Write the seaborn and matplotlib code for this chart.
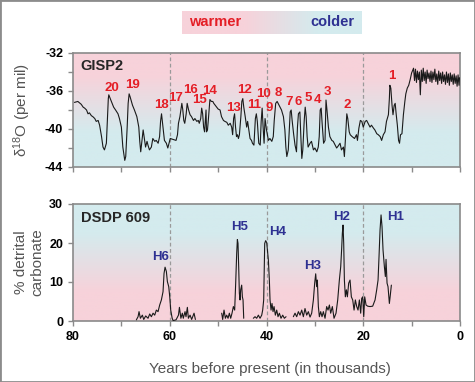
import numpy as np
import pandas as pd
import matplotlib
matplotlib.use('Agg')
import matplotlib.pyplot as plt
from matplotlib.colors import LinearSegmentedColormap
from matplotlib.patches import Rectangle
import seaborn as sns

# GISP2 ice core d18O (per mil) vs age (ka BP)
gisp_age = [
    79.7, 79.0, 78.3, 77.9, 77.6, 77.2, 76.9, 76.6, 76.2, 75.9, 75.5, 75.2, 74.8, 74.5,
    74.1, 73.8, 73.5, 73.1, 72.9, 72.7, 72.6, 72.3, 71.9, 71.6, 71.2, 70.7, 70.4, 70.0,
    69.7, 69.3, 69.1, 69.0, 68.8, 68.6, 68.4, 68.2, 67.7, 67.3, 66.8, 66.4, 66.2, 66.0,
    65.8, 65.5, 65.3, 65.0, 64.7, 64.5, 64.2, 63.8, 63.5, 63.1, 62.8, 62.4, 62.1, 61.9,
    61.7, 61.4, 61.1, 60.7, 60.4, 60.0,
    59.9, 59.3, 58.7, 58.4, 58.2, 57.9, 57.5, 57.3, 57.1, 56.9, 56.6, 56.4, 56.1, 55.8,
    55.5, 55.1, 54.8, 54.4, 54.1, 53.9, 53.6, 53.4, 53.2, 53.0, 52.8, 52.6, 52.5, 52.4,
    52.2, 52.0, 51.8, 51.7, 51.4, 51.1, 50.9, 50.6, 50.3, 50.0, 49.6, 49.3, 48.9, 48.6,
    48.2, 47.9, 47.5, 47.2, 47.0, 46.8, 46.6, 46.4, 46.2, 46.0, 45.8, 45.6, 45.3, 45.1,
    44.9, 44.7, 44.4, 44.1, 43.9, 43.7, 43.4, 43.1, 42.9, 42.6, 42.3, 42.1, 41.9, 41.6,
    41.3, 41.1, 40.9, 40.7, 40.5,
    40.3, 40.0, 39.6, 39.3, 38.9, 38.6, 38.4, 38.1, 37.8, 37.6, 37.2, 36.9, 36.5, 36.2,
    36.0, 35.8, 35.5, 35.3, 35.1, 34.9, 34.7, 34.4, 34.1, 33.8, 33.6, 33.4, 33.1, 32.9,
    32.7, 32.5, 32.2, 32.0, 31.8, 31.6, 31.4, 31.0, 30.7, 30.3, 30.0, 29.6, 29.3, 29.1,
    28.9, 28.7, 28.5, 28.2, 27.9, 27.7, 27.5, 27.2, 26.9, 26.5, 26.2, 25.8, 25.5, 25.2,
    24.8, 24.5, 24.1, 23.9, 23.7, 23.4, 23.2, 22.9, 22.7, 22.3, 21.8, 21.4, 21.2, 20.9,
    20.6, 20.3, 20.0, 19.6,
    19.3, 19.0, 18.6, 18.3, 17.9, 17.6, 17.2, 16.9, 16.5, 16.2, 15.85, 15.5, 15.2, 14.8,
    14.6, 14.5, 14.3, 14.05, 13.85, 13.6, 13.4, 13.2, 12.95, 12.7, 12.5, 12.3, 12.0, 11.7,
    11.4, 11.2, 10.9, 10.6, 10.3, 10.0, 9.6,
    9.4, 9.2, 9.0, 8.8, 8.6, 8.4, 8.2, 8.0, 7.8, 7.6, 7.4, 7.2, 7.0, 6.8, 6.6, 6.4, 6.2,
    6.0, 5.8, 5.6, 5.4, 5.2, 5.0, 4.8, 4.6, 4.4, 4.2, 4.0, 3.8, 3.6, 3.4, 3.2, 3.0, 2.8,
    2.6, 2.4, 2.2, 2.0, 1.8, 1.6, 1.4, 1.2, 1.0, 0.8, 0.6, 0.4, 0.2, 0.1,
]
gisp_d18o = [
    -37.2, -37.1, -37.4, -37.7, -37.8, -38.0, -38.4, -38.3, -38.6, -38.7, -38.9, -39.2, -39.1, -39.6,
    -40.8, -41.9, -42.2, -41.5, -39.1, -36.8, -36.4, -36.8, -37.3, -37.7, -38.0, -38.4, -38.9, -39.8,
    -41.9, -43.3, -42.9, -41.9, -39.8, -37.3, -36.3, -36.6, -37.5, -38.0, -38.7, -39.8, -41.3, -42.4,
    -41.5, -40.1, -40.8, -41.9, -41.3, -41.7, -42.2, -41.9, -41.0, -41.3, -41.2, -41.5, -40.8, -39.2,
    -38.4, -39.8, -41.2, -41.5, -42.0, -41.2,
    -41.0, -41.1, -41.2, -40.6, -39.4, -38.7, -37.3, -38.0, -39.1, -39.4, -38.4, -37.3, -38.0, -38.5,
    -38.7, -39.1, -38.9, -39.2, -39.1, -39.4, -38.9, -37.8, -38.4, -39.8, -40.3, -38.7, -38.0, -40.3,
    -40.1, -38.9, -37.5, -36.9, -37.1, -37.1, -37.3, -37.5, -37.7, -37.9, -38.0, -38.7, -39.1, -39.2,
    -39.3, -39.6, -39.4, -39.8, -40.6, -38.9, -38.4, -39.8, -40.8, -40.6, -41.0, -40.6, -38.7, -37.1,
    -36.8, -37.7, -38.7, -39.8, -39.2, -39.9, -41.0, -41.2, -41.5, -41.7, -38.9, -38.4, -39.2, -41.5,
    -41.7, -39.2, -37.8, -39.8, -41.5,
    -38.9, -40.1, -41.2, -41.0, -41.3, -40.8, -39.1, -37.3, -37.1, -37.3, -37.7, -38.0, -38.7, -40.1,
    -41.9, -42.9, -42.2, -40.1, -38.2, -38.0, -39.1, -40.5, -41.7, -42.4, -39.8, -38.4, -38.2, -40.8,
    -43.1, -42.2, -39.1, -37.7, -38.7, -40.8, -41.9, -41.5, -41.3, -42.2, -42.0, -42.4, -41.9, -40.8,
    -38.0, -37.8, -39.4, -41.5, -41.2, -36.95, -38.0, -39.8, -40.8, -41.2, -41.3, -41.7, -42.0, -41.8,
    -41.5, -42.2, -41.9, -42.9, -41.2, -38.4, -38.9, -40.3, -40.6, -40.8, -41.0, -40.6, -41.2, -39.9,
    -39.1, -39.2, -39.8, -39.2,
    -39.1, -39.4, -39.8, -39.6, -39.9, -40.1, -40.5, -40.6, -40.8, -41.2, -40.6, -40.3, -39.2, -38.5,
    -36.8, -35.4, -35.7, -37.5, -38.5, -37.5, -37.3, -38.4, -39.6, -41.2, -41.5, -40.6, -40.5, -38.5,
    -37.1, -36.3, -35.7, -35.4, -34.8, -34.1, -33.6,
    -34.9, -33.7, -35.1, -33.9, -34.8, -34.0, -36.4, -33.8, -35.0, -33.6, -34.9, -34.0, -35.2, -33.8,
    -34.7, -34.1, -35.0, -33.9, -35.1, -34.0, -34.8, -33.7, -35.0, -34.2, -35.3, -33.9, -34.9, -34.1,
    -35.2, -34.0, -35.0, -34.3, -35.3, -34.0, -35.1, -34.2, -35.4, -34.1, -35.0, -34.3, -35.3, -34.2,
    -35.2, -34.4, -35.5, -34.3, -35.4, -34.6,
]

# DSDP 609 % detrital carbonate (NaN = no data)
nan = float('nan')
dsdp_age = [
    66.9, 66.55, 66.35, 66.07, 65.66, 65.38, 64.97, 64.49, 64.14, 63.8, 63.45, 63.11, 62.77, 62.42,
    62.08, 61.73, 61.39, 61.18, 60.97, 60.7, 60.49, 60.21, 60.0, 59.8, 59.5, 59.3, 58.7, 58.2, 58.0,
    57.7, 57.4, 57.2, 56.84, 56.64, 56.36, 56.15, 55.8, 55.47, 54.98, 54.7, 52.0,
    49.26, 49.06, 48.78, 48.5, 48.23, 47.95, 47.68, 47.4, 47.13, 46.85, 46.58, 46.37, 46.16, 46.02,
    45.89, 45.75, 45.61, 45.47, 45.34, 45.13, 44.99, 44.85, 44.71, 43.7,
    42.72, 42.37, 42.03, 41.68, 41.34, 40.99, 40.79, 40.58, 40.37, 40.17, 39.96, 39.75, 39.61, 39.41,
    39.27, 39.06, 38.86, 38.65, 38.44, 38.17, 37.89, 37.62, 37.34, 37.0, 36.65, 36.31, 35.96, 35.2,
    34.45, 34.1, 33.76, 33.41, 33.07, 32.72, 32.38, 32.04, 31.69, 31.35, 31.0, 30.66, 30.31, 30.04,
    29.83, 29.63, 29.49, 29.28, 29.07, 28.8, 28.52, 28.25, 27.9, 27.56, 27.28, 27.0, 26.73, 26.39,
    26.04, 25.63, 25.28, 24.94, 24.66, 24.46, 24.32, 24.18, 24.04, 23.9, 23.7, 23.49, 23.28, 23.01,
    22.73, 22.46, 22.18, 21.9, 21.63, 21.35, 21.08, 20.8, 20.53, 20.32, 20.11, 19.9, 19.7, 19.42,
    19.08, 18.6, 18.05, 17.56, 17.22, 16.94, 16.74, 16.53, 16.32, 16.12, 15.91, 15.63, 15.43, 15.29,
    15.08, 14.88, 14.6, 14.4, 14.19,
]
dsdp_pct = [
    0.3, 1.1, 2.4, 0.7, 1.5, 0.4, 1.3, 0.7, 1.8, 1.1, 2.0, 1.5, 2.8, 2.4,
    4.1, 5.4, 7.5, 12.2, 13.8, 12.7, 10.1, 8.8, 6.2, 2.8, 0.7, 0.1, 0.3, 1.5, 3.5,
    0.7, 2.0, 0.7, 2.4, 1.1, 3.5, 0.7, 1.5, 0.4, 2.0, 0.4, nan,
    2.0, 0.4, 2.8, 0.7, 1.5, 0.7, 2.0, 0.7, 2.0, 3.7, 2.8, 9.7, 17.4, 20.9,
    19.9, 13.9, 7.1, 5.4, 8.0, 9.2, 6.2, 5.4, 0.7, nan,
    0.7, 1.1, 0.7, 1.5, 0.7, 1.5, 2.8, 5.4, 19.9, 20.6, 20.1, 17.4, 15.6, 10.5,
    5.4, 2.8, 4.5, 2.4, 3.7, 1.5, 2.8, 1.1, 2.0, 0.7, 1.5, 0.7, 1.1, nan,
    1.1, 2.0, 1.1, 2.4, 1.5, 2.8, 1.1, 3.2, 1.5, 2.4, 1.0, 2.0, 5.4, 9.7,
    12.1, 8.8, 10.5, 3.7, 1.1, 2.4, 1.1, 2.4, 0.7, 3.7, 2.8, 4.1, 2.0, 3.7,
    0.7, 2.0, 5.4, 10.5, 13.9, 18.6, 22.5, 24.6, 19.9, 10.5, 6.2, 8.0, 6.2, 9.7,
    10.5, 6.2, 5.4, 2.8, 5.4, 3.7, 2.8, 5.4, 2.0, 5.8, 6.2, 1.1, 6.2, 4.1,
    3.8, 3.7, 3.8, 5.4, 8.0, 10.5, 16.5, 23.3, 27.2, 24.2, 18.2, 13.9, 11.4, 15.8,
    9.7, 8.8, 4.5, 6.7, 9.2,
]

# Dansgaard-Oeschger event labels (number, age, d18O position)
do_labels = ['20', '19', '18', '17', '16', '15', '14', '13', '12', '11', '10', '9',
             '8', '7', '6', '5', '4', '3', '2', '1']
do_age = [72.0, 67.7, 61.8, 58.8, 55.8, 53.75, 51.8, 46.9, 44.65, 42.6, 40.7, 39.5,
          37.5, 35.35, 33.4, 31.4, 29.4, 27.4, 23.3, 14.1]
do_pos = [-35.65, -35.4, -37.5, -36.7, -35.9, -36.95, -35.97, -37.76, -35.9, -37.5, -36.3, -37.76,
          -36.2, -37.2, -37.2, -36.7, -37.0, -36.1, -37.5, -34.4]

# Heinrich event labels
h_labels = ['H6', 'H5', 'H4', 'H3', 'H2', 'H1']
h_age = [61.8, 45.6, 37.6, 30.5, 24.5, 13.4]
h_pos = [16.5, 24.0, 22.9, 14.1, 26.6, 26.6]

dashed_ages = [60, 40, 20]

sns.set_style('ticks')
plt.rcParams['font.family'] = ['Liberation Sans', 'DejaVu Sans']
plt.rcParams['axes.unicode_minus'] = False
plt.rcParams['mathtext.default'] = 'regular'

PINK = '#F7D2DA'
BLUE = '#D4EBEE'
SPINE = '#8a8a8a'
RED = '#E41E26'
NAVY = '#2E3192'
LABEL_GRAY = '#555555'

W, H = 475, 382
fig = plt.figure(figsize=(W / 100, H / 100), dpi=100)
fig.patch.set_facecolor('white')

ax1 = fig.add_axes([73 / W, 1 - 167 / H, 387 / W, 114 / H])
ax2 = fig.add_axes([73 / W, 1 - 321 / H, 387 / W, 117 / H])

grad = np.linspace(0, 1, 256).reshape(-1, 1)
warm_to_cold = LinearSegmentedColormap.from_list(
    'wc', [(0, PINK), (0.2, PINK), (0.7, BLUE), (1, BLUE)])
cold_to_warm = LinearSegmentedColormap.from_list(
    'cw', [(0, BLUE), (0.25, BLUE), (0.75, PINK), (1, PINK)])

ax1.imshow(grad, extent=[80, 0, -44, -32], aspect='auto', cmap=warm_to_cold, zorder=0)
ax2.imshow(grad, extent=[80, 0, 0, 30], aspect='auto', cmap=cold_to_warm, zorder=0)

for ax in (ax1, ax2):
    for a in dashed_ages:
        ax.axvline(a, color='#9a9a9a', lw=0.9, ls=(0, (3, 2)), zorder=1)

# GISP2 curve
gisp = pd.DataFrame({'age': gisp_age, 'd18o': gisp_d18o})
sns.lineplot(data=gisp, x='age', y='d18o', estimator=None, sort=False,
             color='#1a1a1a', lw=0.8, ax=ax1, zorder=3)

# DSDP 609 curve, split at data gaps
dsdp = pd.DataFrame({'age': dsdp_age, 'pct': dsdp_pct})
dsdp['seg'] = dsdp['pct'].isna().cumsum()
dsdp = dsdp.dropna()
sns.lineplot(data=dsdp, x='age', y='pct', units='seg', estimator=None, sort=False,
             color='#1a1a1a', lw=0.8, ax=ax2, zorder=3)

for lab, a, v in zip(do_labels, do_age, do_pos):
    ax1.text(a, v, lab, color=RED, fontsize=9.5, fontweight='bold',
             ha='center', va='center', zorder=4)
for lab, a, v in zip(h_labels, h_age, h_pos):
    ax2.text(a, v, lab, color=NAVY, fontsize=9.5, fontweight='bold',
             ha='center', va='center', zorder=4)

ax1.text(0.018, 0.885, 'GISP2', transform=ax1.transAxes, fontsize=10.5,
         fontweight='bold', ha='left', va='center', zorder=4)
ax2.text(0.02, 0.88, 'DSDP 609', transform=ax2.transAxes, fontsize=10.5,
         fontweight='bold', ha='left', va='center', zorder=4)

ax1.set_ylim(-44, -32)
ax1.set_yticks([-44, -40, -36, -32])
ax1.set_yticks([-42, -38, -34], minor=True)
ax2.set_ylim(0, 30)
ax2.set_yticks([0, 10, 20, 30])

for ax in (ax1, ax2):
    ax.set_xlim(80, 0)
    ax.set_xticks([80, 60, 40, 20, 0])
    ax.set_xticks([70, 50, 30, 10], minor=True)
    ax.tick_params(which='both', direction='out', length=3.6, width=1,
                   color=SPINE, labelsize=9, pad=3.5, labelcolor='black')
    for s in ax.spines.values():
        s.set_color(SPINE)
        s.set_linewidth(1.2)
    ax.set_xlabel('')
    plt.setp(ax.get_xticklabels(), fontweight='bold')
    plt.setp(ax.get_yticklabels(), fontweight='bold')

ax1.tick_params(axis='x', labelbottom=False)

ax1.set_ylabel('δ$^{18}$O (per mil)', fontsize=11, color=LABEL_GRAY, va='center')
ax1.yaxis.set_label_coords(-0.132, 0.5)
ax2.set_ylabel('% detrital\ncarbonate', fontsize=11, color=LABEL_GRAY,
               linespacing=1.2, va='center')
ax2.yaxis.set_label_coords(-0.114, 0.5)

fig.text(269.5 / W, 1 - 369 / H, 'Years before present (in thousands)',
         fontsize=11, color=LABEL_GRAY, ha='center', va='center')

# warmer / colder header box
hax = fig.add_axes([182 / W, 1 - 34 / H, 180 / W, 23 / H])
hcmap = LinearSegmentedColormap.from_list(
    'h', [(0, PINK), (0.35, PINK), (0.75, BLUE), (1, BLUE)])
hax.imshow(np.linspace(0, 1, 256).reshape(1, -1), extent=[0, 1, 0, 1],
           aspect='auto', cmap=hcmap)
hax.axis('off')
fig.text(215.5 / W, 1 - 22.5 / H, 'warmer', color=RED, fontsize=10.5,
         fontweight='bold', ha='center', va='center')
fig.text(332.5 / W, 1 - 22.5 / H, 'colder', color=NAVY, fontsize=10.5,
         fontweight='bold', ha='center', va='center')

fig.patches.append(Rectangle((0, 0), 1, 1, transform=fig.transFigure, fill=False,
                             edgecolor='#8c8c8c', lw=2))

fig.savefig('out.png', dpi=100)
